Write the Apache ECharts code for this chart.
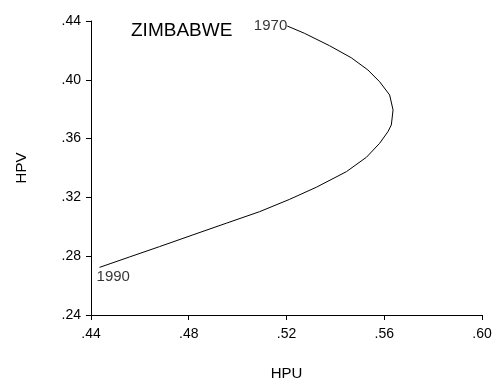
<!DOCTYPE html>
<html>
<head>
<meta charset="utf-8">
<script src="https://cdn.jsdelivr.net/npm/echarts@6/dist/echarts.min.js"></script>
<style>
html,body{margin:0;padding:0;background:#fff;}
#chart{width:495px;height:381px;}
</style>
</head>
<body>
<div id="chart"></div>
<script>
// HPU (x) and HPV (y), 1970 -> 1990 path
var hpu = [0.5203, 0.5274, 0.5376, 0.5465, 0.5533, 0.5581, 0.5622, 0.5636, 0.5629, 0.5615, 0.5581, 0.5527, 0.5445, 0.5322, 0.5213, 0.5090, 0.4953, 0.4817, 0.4680, 0.4558, 0.4435];
var hpv = [0.4366, 0.4316, 0.4232, 0.4150, 0.4067, 0.3987, 0.3897, 0.3795, 0.3693, 0.3647, 0.3568, 0.3473, 0.3375, 0.3269, 0.3187, 0.3103, 0.3024, 0.2945, 0.2865, 0.2795, 0.2724];
var startYear = '1970';
var endYear = '1990';
var countryName = 'ZIMBABWE';
var xTicks = [0.44, 0.48, 0.52, 0.56, 0.60];
var yTicks = [0.24, 0.28, 0.32, 0.36, 0.40, 0.44];

var FONT = '"Liberation Sans", Arial, sans-serif';
var pts = hpu.map(function (x, i) { return [x, hpv[i]]; });
function fmt(v) { return v.toFixed(2).replace(/^0/, ''); }

var chart = echarts.init(document.getElementById('chart'), null, {renderer: 'canvas'});
chart.setOption({
  animation: false,
  backgroundColor: '#fff',
  title: {
    text: countryName,
    left: 131, top: 21, padding: 0,
    textStyle: {fontFamily: FONT, fontSize: 19, fontWeight: 'normal', color: '#000'}
  },
  grid: {left: 91, top: 21, width: 391, height: 294, containLabel: false, outerBoundsMode: 'none'},
  xAxis: {
    type: 'value',
    min: xTicks[0], max: xTicks[xTicks.length - 1], interval: 0.04,
    name: 'HPU', nameLocation: 'middle', nameGap: 51,
    nameTextStyle: {fontFamily: FONT, fontSize: 15, color: '#000'},
    axisLine: {show: true, lineStyle: {color: '#000', width: 1}},
    axisTick: {show: true, length: 5, inside: false, lineStyle: {color: '#000'}},
    axisLabel: {fontFamily: FONT, fontSize: 14, color: '#000', margin: 12, formatter: fmt},
    splitLine: {show: false}
  },
  yAxis: {
    type: 'value',
    min: yTicks[0], max: yTicks[yTicks.length - 1], interval: 0.04,
    name: 'HPV', nameLocation: 'middle', nameGap: 62,
    nameTextStyle: {fontFamily: FONT, fontSize: 15, color: '#000'},
    axisLine: {show: true, lineStyle: {color: '#000', width: 1}},
    axisTick: {show: true, length: 5, inside: false, lineStyle: {color: '#000'}},
    axisLabel: {fontFamily: FONT, fontSize: 14, color: '#000', margin: 10, formatter: fmt},
    splitLine: {show: false}
  },
  series: [
    {
      type: 'line',
      data: pts,
      symbol: 'none',
      smooth: false,
      lineStyle: {color: '#000', width: 1},
      silent: true
    },
    {
      type: 'scatter',
      symbolSize: 0,
      silent: true,
      data: [
        {value: pts[0], label: {show: true, formatter: startYear, position: 'left', distance: 0}},
        {value: pts[pts.length - 1], label: {show: true, formatter: endYear, position: 'bottom', align: 'left', distance: 2, offset: [-3, 0]}}
      ],
      label: {fontFamily: FONT, fontSize: 15, color: '#000'}
    }
  ]
});
</script>
</body>
</html>
